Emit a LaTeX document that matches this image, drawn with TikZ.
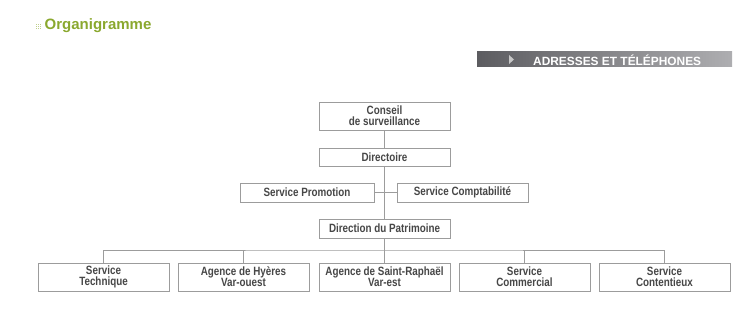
\documentclass[tikz,border=0pt]{standalone}
\usepackage{fontspec}
\setmainfont{Liberation Sans}
\newfontfamily\boxfont[FakeStretch=0.82]{Liberation Sans}
\definecolor{boxline}{HTML}{9C9C9C}
\definecolor{boxtext}{HTML}{474747}
\definecolor{titlegreen}{HTML}{8AA82E}
\definecolor{bandleft}{HTML}{5C5C60}
\definecolor{bandright}{HTML}{AEAEB1}
\tikzset{
  orgbox/.style={draw=boxline, line width=0.9pt, fill=white, text=boxtext,
    font=\boxfont\bfseries\fontsize{12}{11}\selectfont, align=center,
    inner sep=0pt, minimum width=131pt},
  onerow/.style={orgbox, minimum height=19pt},
  tworow/.style={orgbox, minimum height=28pt},
  conn/.style={draw=boxline, line width=0.9pt},
}
\begin{document}
\begin{tikzpicture}[x=1pt,y=-1pt]
\useasboundingbox (0,0) rectangle (755,321);
% title
\foreach \i in {0,1,2} \foreach \j in {0,1,2}
  \fill[titlegreen!55] (36+2*\i,24+2*\j) rectangle ++(1.1,1.1);
\node[anchor=west, text=titlegreen, font=\bfseries\fontsize{15}{16}\selectfont, inner sep=0pt] (title) at (44.5,25.5) {Organigramme};
% banner
\node[left color=bandleft, right color=bandright, minimum width=255pt, minimum height=15pt, inner sep=0pt] (band) at (604.5,59.5) {};
\fill[white!78!black] (509,55) -- (514,59.5) -- (509,64) -- cycle;
\node[anchor=west, text=white, font=\bfseries\fontsize{11.9}{13}\selectfont, inner sep=0pt] (adr) at (533,59.8) {ADRESSES ET TÉLÉPHONES};
% nodes
\node[tworow] (cons) at (384.5,116) {Conseil\\de surveillance};
\node[onerow, minimum height=18pt] (dirc) at (384.5,157) {Directoire};
\node[onerow, minimum width=134pt] (promo) at (307,192.5) {Service Promotion};
\node[onerow] (compta) at (462.5,192.5) {Service Comptabilité};
\node[onerow] (patr) at (384.5,228.5) {Direction du Patrimoine};
\coordinate (bus) at (384.5,250);
\node[tworow] (tech) at (103.5,277) {Service\\Technique};
\node[tworow] (hyer) at (243.5,277) {Agence de Hyères\\Var-ouest};
\node[tworow] (raph) at (384.5,277) {Agence de Saint-Raphaël\\Var-est};
\node[tworow] (comm) at (524.5,277) {Service\\Commercial};
\node[tworow] (cont) at (664.5,277) {Service\\Contentieux};
% connectors
\draw[conn] (cons.south) -- (dirc.north);
\draw[conn] (dirc.south) -- (patr.north);
\draw[conn] (promo.east) -- (compta.west);
\draw[conn] (patr.south) -- (bus);
\draw[conn] (tech.north) |- (bus) -| (cont.north);
\draw[conn] (hyer.north) -- (hyer.north |- bus);
\draw[conn] (raph.north) -- (bus);
\draw[conn] (comm.north) -- (comm.north |- bus);
\end{tikzpicture}
\end{document}
